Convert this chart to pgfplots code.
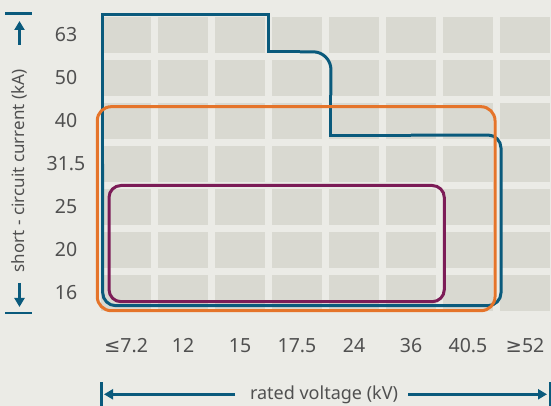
\documentclass[border=0pt]{standalone}
\usepackage{pgfplots}
\pgfplotsset{compat=1.18}
\usepackage{fontspec}
\setmainfont{Noto Sans}
\newfontfamily\symfont{DejaVu Sans}
\usetikzlibrary{arrows.meta}
\definecolor{bg}{HTML}{EBEBE6}
\definecolor{sq}{HTML}{D9D9D1}
\definecolor{cblue}{HTML}{0A5A7C}
\definecolor{corange}{HTML}{E5742A}
\definecolor{cpurple}{HTML}{7C1C57}
\definecolor{txt}{HTML}{505050}
\begin{document}
\begin{tikzpicture}
\fill[bg] (0pt,0pt) rectangle (551pt,406pt);
\useasboundingbox (0pt,0pt) rectangle (551pt,406pt);
\begin{axis}[
  at={(101pt,95pt)}, anchor=south west,
  width=449pt, height=294pt, scale only axis,
  clip=false,
  xmin=-0.4386, xmax=7.4386,
  ymin=-0.4186, ymax=6.4186,
  axis background/.style={fill=sq},
  axis line style={draw=none},
  major tick style={draw=none},
  minor tick style={draw=none},
  xtick={0,1,2,3,4,5,6,7},
  xticklabels={{\symfont\char"2264}7.2,12,15,17.5,24,36,40.5,{\symfont\char"2265}52},
  ytick={0,1,2,3,4,5,6},
  yticklabels={16,20,25,31.5,40,50,63},
  minor xtick={0.5,1.5,2.5,3.5,4.5,5.5,6.5},
  minor ytick={0.5,1.5,2.5,3.5,4.5,5.5},
  xminorgrids=true, yminorgrids=true,
  xmajorgrids=false, ymajorgrids=false,
  minor grid style={line width=7pt, color=bg},
  ticklabel style={font=\fontsize{19.5}{22}\selectfont, text=txt},
  xticklabel style={anchor=base, yshift=-42pt},
  yticklabel style={anchor=center, xshift=-35pt},
  no markers,
]
% blue region
\addplot[cblue, line width=3pt, sharp plot] coordinates {(-0.409,3.0) (-0.409,6.472) (2.5,6.472) (2.5,5.61) (3.05,5.61)};
\addplot[cblue, line width=3pt, rounded corners=18pt] coordinates {(3.05,5.61) (3.596,5.61) (3.596,4.6)};
\addplot[cblue, line width=3pt, sharp plot] coordinates {(3.596,4.6) (3.596,3.674) (5.0,3.674)};
\addplot[cblue, line width=3pt, rounded corners=13pt] coordinates {(5.0,3.674) (6.579,3.674) (6.579,-0.295) (-0.409,-0.295) (-0.409,3.0)};
% orange region
\addplot[corange, line width=3pt, rounded corners=14pt] coordinates {(3,4.333) (6.474,4.333) (6.474,-0.412) (-0.504,-0.412) (-0.504,4.333) (3,4.333)};
% purple region
\addplot[cpurple, line width=3pt, rounded corners=12pt] coordinates {(2.5,2.5) (5.584,2.5) (5.584,-0.202) (-0.298,-0.202) (-0.298,2.5) (2.5,2.5)};
\end{axis}
% x axis title with arrows
\draw[cblue, line width=2.5pt] (101.3pt,0pt) -- (101.3pt,24pt);
\draw[cblue, line width=2.5pt] (550pt,0pt) -- (550pt,24pt);
\draw[cblue, line width=2.5pt, -{Triangle[width=10pt,length=9pt]}] (235pt,11.7pt) -- (104pt,11.7pt);
\draw[cblue, line width=2.5pt, -{Triangle[width=10pt,length=9pt]}] (408pt,11.7pt) -- (547pt,11.7pt);
\node[text=txt, font=\fontsize{18}{21}\selectfont, anchor=center] at (324pt,11pt) {rated voltage (kV)};
% y axis title with arrows
\draw[cblue, line width=2.5pt] (5pt,392.7pt) -- (32pt,392.7pt);
\draw[cblue, line width=2.5pt] (5pt,93pt) -- (32pt,93pt);
\draw[cblue, line width=2.5pt, -{Triangle[width=10pt,length=9pt]}] (19.5pt,361pt) -- (19.5pt,385pt);
\draw[cblue, line width=2.5pt, -{Triangle[width=10pt,length=9pt]}] (19.5pt,123pt) -- (19.5pt,99pt);
\node[text=txt, font=\fontsize{17}{20}\selectfont, anchor=center, rotate=90] at (19pt,235pt) {short - circuit current (kA)};
\end{tikzpicture}
\end{document}
